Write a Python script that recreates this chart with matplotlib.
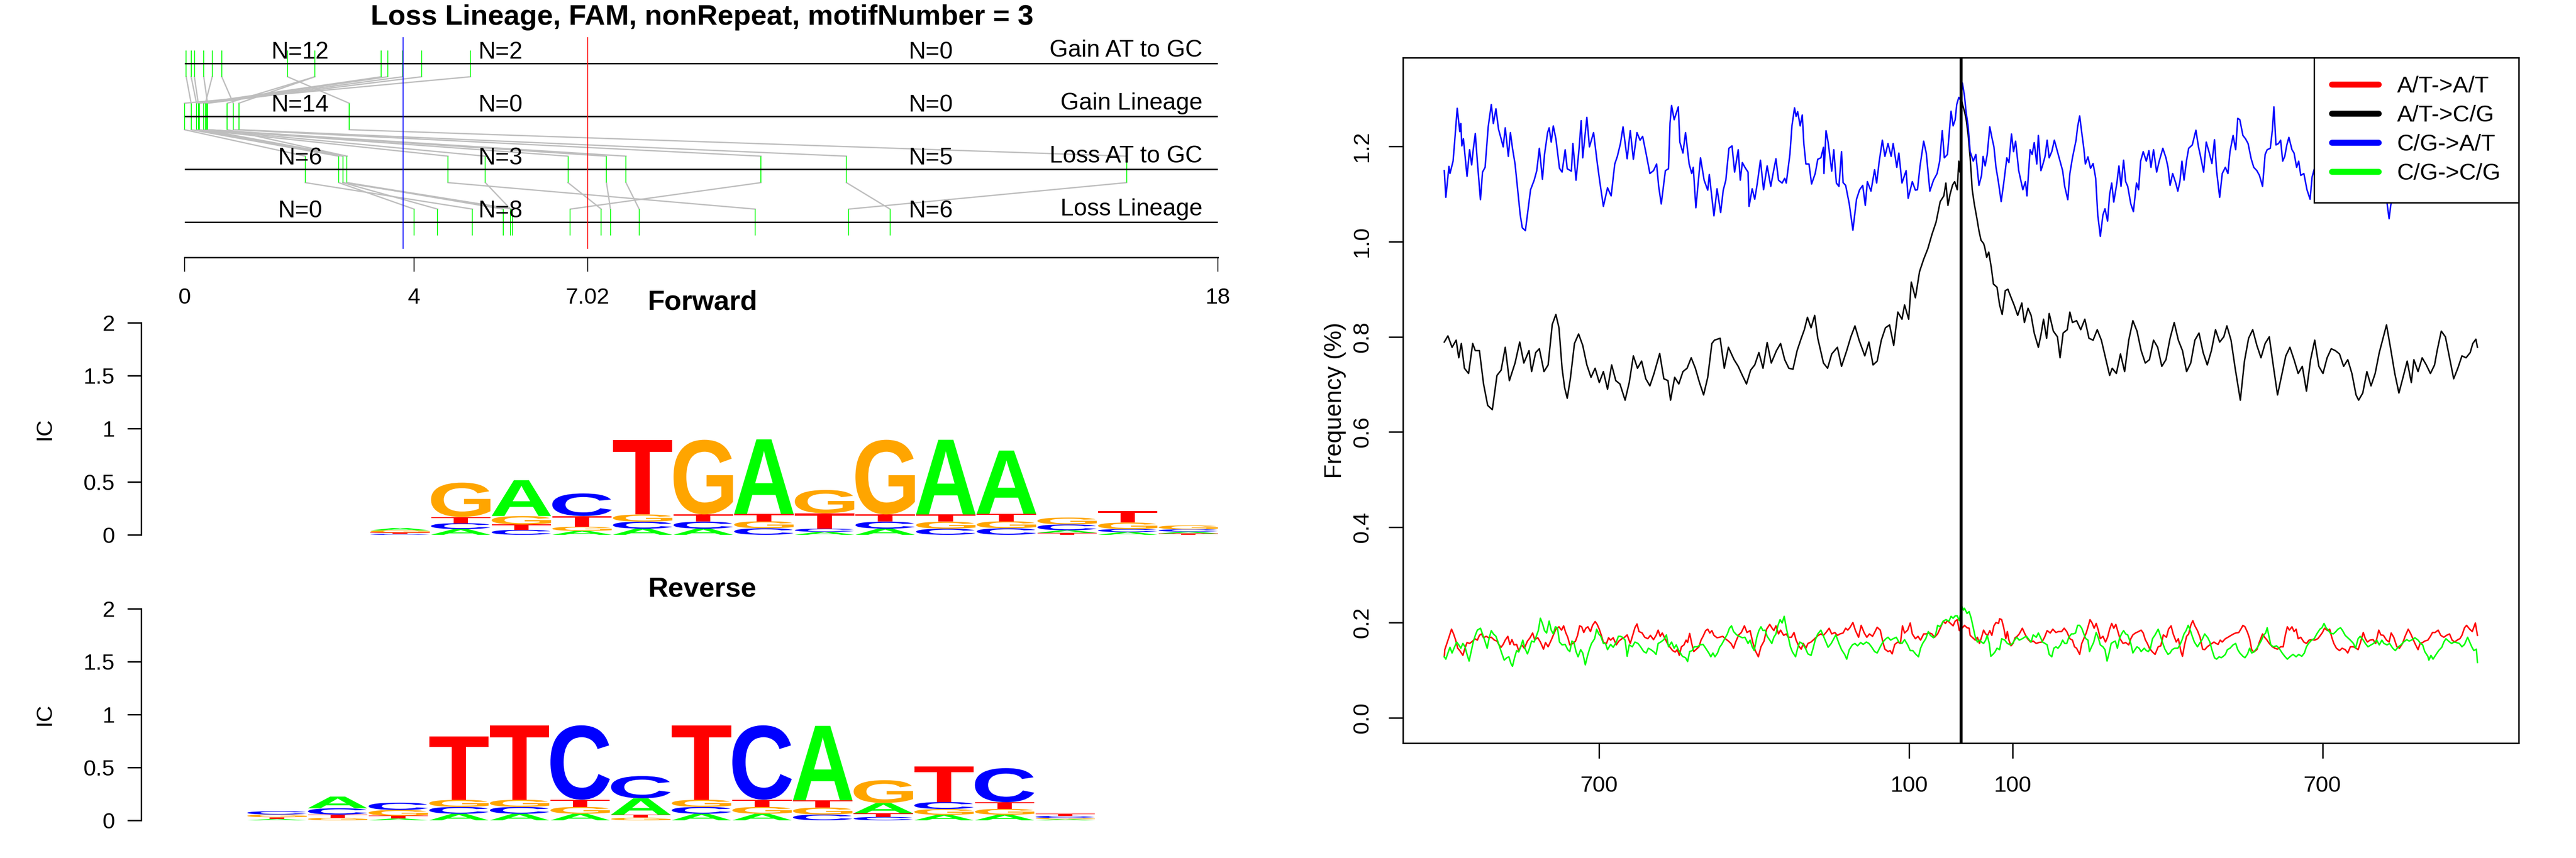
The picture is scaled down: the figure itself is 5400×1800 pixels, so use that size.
import numpy as np
import matplotlib
matplotlib.use('Agg')
import matplotlib.pyplot as plt
from matplotlib.textpath import TextPath
from matplotlib.patches import PathPatch
from matplotlib.font_manager import FontProperties
from matplotlib.transforms import Affine2D
from matplotlib.lines import Line2D

plt.rcParams['font.family'] = ['Liberation Sans', 'DejaVu Sans']

# ---------------- top left: motif positions, one entry per motif ----------------
TITLE = 'Loss Lineage, FAM, nonRepeat, motifNumber = 3'
LINEAGES = ['Gain AT to GC', 'Gain Lineage', 'Loss AT to GC', 'Loss Lineage']
GAIN_AT = [4.98, 0.03, 0.116, 0.173, 3.43, 3.54, 0.483, 3.80, 0.336, 4.13, 2.27, 0.65, 2.27, 1.795]
GAIN_LIN = [0.0, 0.116, 0.21, 0.24, 0.264, 0.336, 0.364, 0.383, 0.402, 0.402, 0.746, 0.85, 0.946, 2.87]
LOSS_AT = [2.105, 2.687, 2.76, 4.59, 2.76, 2.83, 5.24, 6.68, 7.35, 7.69, 2.83, 10.04, 11.53, 16.41]
LOSS_LIN = [5.015, 4.0, 4.41, 9.94, 5.715, 5.55, 5.68, 7.26, 7.42, 7.92, 5.715, 6.72, 12.29, 11.57]
POSITIONS = [GAIN_AT, GAIN_LIN, LOSS_AT, LOSS_LIN]
BLUE_CUT = 3.81
RED_CUT = 7.02
X_MAX = 18

# ---------------- sequence logos (information per base and column) ----------------
FWD_A = [.022, .054, .338, .037, .058, .058, .704, .028, .058, .704, .596, .025, .026, .018]
FWD_C = [.010, .056, .047, .213, .066, .066, .062, .030, .066, .058, .062, .055, .028, .022]
FWD_G = [.020, .324, .080, .040, .068, .704, .066, .220, .704, .066, .066, .065, .062, .037]
FWD_T = [.012, .058, .050, .100, .704, .068, .068, .145, .068, .068, .070, .018, .110, .012]

REV_A = [.012, .110, .017, .062, .062, .062, .155, .062, .062, .702, .098, .052, .053, .010]
REV_C = [.031, .059, .069, .065, .065, .702, .210, .065, .702, .055, .032, .066, .322, .020]
REV_G = [.026, .024, .055, .067, .068, .065, .025, .068, .065, .066, .215, .055, .056, .012]
REV_T = [.017, .031, .026, .597, .702, .068, .028, .702, .068, .069, .034, .336, .062, .022]

# ---------------- right: substitution frequency around the motif ----------------
BLUE_PTS = [(-1000, 1.149), (-997, 1.093), (-991, 1.158), (-989, 1.143), (-983, 1.169), (-980, 1.209), (-975, 1.280),
            (-970, 1.231), (-968, 1.248), (-966, 1.201), (-963, 1.216), (-956, 1.137), (-951, 1.193), (-947, 1.161),
            (-944, 1.193), (-940, 1.227), (-936, 1.168), (-930, 1.088), (-926, 1.146), (-921, 1.156), (-915, 1.241),
            (-909, 1.288), (-905, 1.248), (-900, 1.279), (-895, 1.236), (-890, 1.216), (-886, 1.199), (-882, 1.239),
            (-876, 1.179), (-872, 1.229), (-868, 1.196), (-863, 1.163), (-858, 1.109), (-853, 1.056), (-849, 1.029),
            (-843, 1.023), (-838, 1.066), (-833, 1.109), (-826, 1.129), (-821, 1.149), (-816, 1.196), (-810, 1.131),
            (-806, 1.183), (-800, 1.229), (-797, 1.239), (-793, 1.209), (-789, 1.243), (-784, 1.216), (-777, 1.154),
            (-772, 1.146), (-766, 1.193), (-762, 1.153), (-754, 1.148), (-751, 1.206), (-745, 1.129), (-739, 1.196),
            (-735, 1.254), (-732, 1.176), (-724, 1.261), (-719, 1.199), (-711, 1.229), (-704, 1.166), (-699, 1.126),
            (-692, 1.074), (-684, 1.113), (-677, 1.096), (-670, 1.163), (-665, 1.179), (-659, 1.206), (-654, 1.241),
            (-646, 1.174), (-640, 1.233), (-634, 1.173), (-627, 1.229), (-621, 1.213), (-616, 1.221), (-609, 1.183),
            (-602, 1.143), (-595, 1.149), (-589, 1.163), (-585, 1.116), (-580, 1.079), (-572, 1.149), (-566, 1.153),
            (-563, 1.249), (-560, 1.286), (-555, 1.256), (-547, 1.283), (-544, 1.209), (-538, 1.186), (-533, 1.229),
            (-526, 1.163), (-521, 1.143), (-518, 1.156), (-513, 1.071), (-504, 1.176), (-497, 1.129), (-490, 1.108),
            (-487, 1.141), (-482, 1.093), (-478, 1.054), (-472, 1.111), (-465, 1.061), (-460, 1.108), (-455, 1.129),
            (-449, 1.196), (-443, 1.201), (-438, 1.146), (-431, 1.193), (-427, 1.129), (-423, 1.166), (-418, 1.156),
            (-412, 1.146), (-410, 1.074), (-404, 1.111), (-399, 1.089), (-394, 1.123), (-388, 1.171), (-382, 1.109),
            (-375, 1.159), (-368, 1.116), (-363, 1.146), (-358, 1.174), (-353, 1.129), (-346, 1.123), (-341, 1.133),
            (-338, 1.123), (-331, 1.183), (-327, 1.243), (-322, 1.281), (-319, 1.263), (-316, 1.273), (-311, 1.243),
            (-307, 1.266), (-304, 1.206), (-300, 1.163), (-294, 1.163), (-289, 1.121), (-282, 1.143), (-277, 1.173),
            (-271, 1.176), (-266, 1.198), (-265, 1.143), (-261, 1.233), (-257, 1.209), (-250, 1.148), (-246, 1.193),
            (-241, 1.123), (-236, 1.116), (-231, 1.189), (-228, 1.124), (-223, 1.118), (-216, 1.079), (-209, 1.024),
            (-202, 1.089), (-196, 1.109), (-190, 1.118), (-185, 1.076), (-181, 1.126), (-174, 1.106), (-167, 1.151),
            (-163, 1.123), (-158, 1.169), (-152, 1.213), (-147, 1.179), (-141, 1.206), (-135, 1.179), (-131, 1.206),
            (-124, 1.156), (-120, 1.186), (-114, 1.123), (-106, 1.149), (-102, 1.091), (-94, 1.126), (-88, 1.108),
            (-84, 1.109), (-79, 1.159), (-72, 1.211), (-67, 1.186), (-60, 1.106), (-53, 1.129), (-46, 1.143),
            (-41, 1.169), (-36, 1.233), (-32, 1.176), (-26, 1.183), (-19, 1.274), (-15, 1.243), (-11, 1.256),
            (-8, 1.288), (-4, 1.303), (0, 1.296), (3, 1.333), (7, 1.306), (10, 1.273), (14, 1.243), (18, 1.189),
            (24, 1.169), (29, 1.183), (35, 1.118), (40, 1.139), (43, 1.179), (47, 1.159), (51, 1.183), (56, 1.241),
            (60, 1.219), (64, 1.199), (68, 1.156), (73, 1.123), (78, 1.084), (83, 1.123), (89, 1.176), (93, 1.166),
            (98, 1.226), (102, 1.189), (106, 1.211), (112, 1.149), (116, 1.129), (120, 1.109), (125, 1.126),
            (128, 1.096), (134, 1.193), (138, 1.183), (142, 1.208), (147, 1.163), (150, 1.223), (155, 1.149),
            (159, 1.163), (163, 1.179), (167, 1.213), (171, 1.176), (176, 1.189), (181, 1.213), (186, 1.193),
            (192, 1.169), (197, 1.149), (201, 1.116), (207, 1.088), (211, 1.143), (216, 1.176), (223, 1.213),
            (226, 1.241), (230, 1.264), (234, 1.229), (238, 1.196), (241, 1.163), (246, 1.178), (251, 1.154),
            (256, 1.164), (261, 1.133), (265, 1.056), (270, 1.011), (275, 1.056), (279, 1.069), (284, 1.043),
            (288, 1.099), (292, 1.123), (296, 1.083), (302, 1.123), (306, 1.159), (310, 1.116), (315, 1.171),
            (319, 1.126), (323, 1.116), (329, 1.079), (334, 1.063), (340, 1.123), (344, 1.109), (348, 1.169),
            (353, 1.189), (359, 1.169), (364, 1.191), (368, 1.156), (373, 1.193), (379, 1.146), (384, 1.169),
            (391, 1.196), (397, 1.176), (401, 1.156), (405, 1.118), (410, 1.143), (416, 1.123), (420, 1.106),
            (424, 1.126), (428, 1.169), (432, 1.129), (437, 1.171), (441, 1.196), (448, 1.203), (455, 1.234),
            (460, 1.199), (464, 1.179), (470, 1.146), (475, 1.209), (481, 1.186), (486, 1.164), (491, 1.214),
            (495, 1.149), (501, 1.093), (506, 1.143), (512, 1.156), (517, 1.143), (521, 1.189), (527, 1.223),
            (532, 1.193), (536, 1.259), (540, 1.256), (546, 1.223), (551, 1.216), (556, 1.206), (562, 1.174),
            (567, 1.156), (573, 1.149), (578, 1.139), (584, 1.116), (589, 1.183), (593, 1.193), (599, 1.196),
            (603, 1.234), (606, 1.283), (610, 1.203), (615, 1.206), (619, 1.213), (623, 1.169), (627, 1.179),
            (631, 1.203), (635, 1.219), (641, 1.193), (645, 1.186), (650, 1.156), (654, 1.169), (658, 1.139),
            (664, 1.143), (670, 1.109), (676, 1.089), (680, 1.136), (685, 1.156), (700, 1.18), (725, 1.21),
            (750, 1.16), (775, 1.19), (800, 1.14), (815, 1.11), (824, 1.089), (829, 1.048), (832, 1.075),
            (840, 1.12), (860, 1.19), (885, 1.23), (910, 1.17), (935, 1.21), (960, 1.18), (980, 1.16), (1000, 1.17)]

BLACK_PTS = [(-1000, 0.789), (-993, 0.802), (-985, 0.778), (-977, 0.793), (-972, 0.756), (-967, 0.786), (-961, 0.734),
             (-953, 0.723), (-945, 0.786), (-940, 0.771), (-932, 0.771), (-924, 0.701), (-916, 0.656), (-907, 0.647),
             (-898, 0.719), (-890, 0.730), (-882, 0.778), (-874, 0.708), (-863, 0.745), (-854, 0.789), (-846, 0.745),
             (-836, 0.771), (-831, 0.727), (-823, 0.767), (-816, 0.775), (-807, 0.727), (-799, 0.741), (-791, 0.826),
             (-784, 0.847), (-778, 0.819), (-772, 0.734), (-767, 0.693), (-762, 0.671), (-756, 0.712), (-748, 0.786),
             (-740, 0.806), (-732, 0.782), (-724, 0.741), (-716, 0.715), (-708, 0.734), (-700, 0.704), (-692, 0.727),
             (-684, 0.690), (-676, 0.741), (-668, 0.708), (-660, 0.701), (-650, 0.667), (-642, 0.704), (-634, 0.760),
             (-626, 0.734), (-618, 0.749), (-610, 0.712), (-602, 0.697), (-594, 0.723), (-583, 0.765), (-575, 0.712),
             (-567, 0.708), (-562, 0.667), (-554, 0.715), (-546, 0.701), (-538, 0.727), (-530, 0.734), (-522, 0.756),
             (-514, 0.734), (-506, 0.704), (-498, 0.678), (-490, 0.715), (-482, 0.786), (-477, 0.793), (-466, 0.797),
             (-458, 0.734), (-450, 0.778), (-439, 0.752), (-431, 0.738), (-423, 0.719), (-415, 0.701), (-407, 0.730),
             (-399, 0.741), (-391, 0.767), (-383, 0.734), (-375, 0.788), (-367, 0.745), (-357, 0.771), (-349, 0.786),
             (-341, 0.752), (-333, 0.734), (-325, 0.732), (-317, 0.771), (-309, 0.797), (-303, 0.815), (-297, 0.841),
             (-290, 0.819), (-283, 0.845), (-277, 0.797), (-266, 0.745), (-258, 0.734), (-250, 0.764), (-239, 0.778),
             (-231, 0.738), (-221, 0.771), (-213, 0.800), (-205, 0.823), (-197, 0.793), (-186, 0.760), (-178, 0.789),
             (-170, 0.741), (-162, 0.749), (-154, 0.793), (-146, 0.819), (-138, 0.825), (-130, 0.782), (-122, 0.852),
             (-114, 0.837), (-109, 0.867), (-101, 0.837), (-96, 0.915), (-88, 0.882), (-80, 0.937), (-72, 0.963),
             (-64, 0.985), (-56, 1.015), (-48, 1.041), (-40, 1.084), (-33, 1.096), (-29, 1.123), (-25, 1.076),
             (-21, 1.099), (-16, 1.119), (-12, 1.126), (-7, 1.109), (-4, 1.169), (-2, 1.146), (0, 1.17),
             (1, 1.30), (3, 1.289), (7, 1.273), (10, 1.259), (14, 1.226), (18, 1.176), (22, 1.109), (26, 1.079),
             (31, 1.049), (35, 1.023), (39, 1.003), (44, 0.996), (46, 0.989), (50, 0.967), (54, 0.978), (59, 0.945),
             (63, 0.911), (70, 0.904), (75, 0.867), (80, 0.847), (86, 0.897), (91, 0.900), (96, 0.886), (103, 0.867),
             (110, 0.845), (118, 0.871), (123, 0.830), (130, 0.860), (136, 0.845), (142, 0.808), (150, 0.778),
             (155, 0.804), (160, 0.837), (166, 0.797), (171, 0.849), (179, 0.812), (187, 0.800), (192, 0.756),
             (198, 0.808), (206, 0.815), (211, 0.852), (216, 0.830), (224, 0.834), (232, 0.815), (240, 0.837),
             (248, 0.797), (256, 0.793), (264, 0.815), (272, 0.793), (280, 0.756), (288, 0.719), (293, 0.734),
             (301, 0.723), (309, 0.764), (317, 0.727), (325, 0.793), (333, 0.834), (341, 0.812), (349, 0.771),
             (357, 0.745), (365, 0.752), (373, 0.793), (381, 0.778), (389, 0.738), (397, 0.752), (405, 0.797),
             (413, 0.830), (421, 0.793), (429, 0.771), (437, 0.727), (445, 0.745), (453, 0.793), (461, 0.808),
             (469, 0.767), (477, 0.741), (485, 0.771), (493, 0.815), (501, 0.789), (509, 0.800), (515, 0.823),
             (523, 0.793), (531, 0.734), (541, 0.667), (549, 0.749), (557, 0.797), (565, 0.815), (573, 0.782),
             (581, 0.756), (589, 0.786), (597, 0.800), (605, 0.738), (613, 0.678), (621, 0.719), (629, 0.760),
             (637, 0.778), (645, 0.752), (653, 0.723), (661, 0.738), (669, 0.686), (677, 0.752), (685, 0.793),
             (693, 0.738), (701, 0.723), (709, 0.756), (717, 0.775), (725, 0.771), (733, 0.764), (741, 0.738),
             (749, 0.752), (757, 0.723), (765, 0.678), (770, 0.667), (778, 0.682), (786, 0.727), (794, 0.697),
             (802, 0.723), (810, 0.767), (818, 0.800), (824, 0.825), (832, 0.775), (840, 0.723), (848, 0.682),
             (856, 0.715), (864, 0.749), (872, 0.704), (877, 0.752), (885, 0.727), (893, 0.756), (901, 0.741),
             (909, 0.723), (917, 0.741), (922, 0.771), (930, 0.812), (938, 0.800), (946, 0.756), (954, 0.712),
             (962, 0.734), (970, 0.760), (978, 0.756), (986, 0.767), (991, 0.786), (997, 0.795), (1000, 0.778)]

RED_PTS = [(-1000, 0.128), (-999, 0.143), (-995, 0.156), (-991, 0.169), (-986, 0.186), (-982, 0.176), (-978, 0.163),
           (-974, 0.146), (-970, 0.141), (-964, 0.131), (-960, 0.146), (-956, 0.158), (-951, 0.156), (-945, 0.161),
           (-941, 0.166), (-936, 0.163), (-932, 0.173), (-928, 0.176), (-924, 0.168), (-919, 0.171), (-914, 0.168),
           (-909, 0.169), (-903, 0.163), (-898, 0.161), (-894, 0.153), (-890, 0.148), (-886, 0.154), (-882, 0.163),
           (-877, 0.171), (-873, 0.154), (-869, 0.164), (-865, 0.153), (-860, 0.154), (-856, 0.141), (-850, 0.153),
           (-845, 0.146), (-839, 0.161), (-834, 0.168), (-829, 0.178), (-825, 0.164), (-819, 0.168), (-814, 0.159),
           (-808, 0.144), (-804, 0.158), (-799, 0.149), (-793, 0.163), (-788, 0.176), (-784, 0.186), (-778, 0.191),
           (-773, 0.184), (-769, 0.193), (-765, 0.179), (-761, 0.169), (-757, 0.153), (-751, 0.156), (-746, 0.161),
           (-742, 0.173), (-738, 0.193), (-734, 0.191), (-730, 0.179), (-726, 0.188), (-722, 0.191), (-717, 0.181),
           (-713, 0.194), (-708, 0.202), (-704, 0.196), (-700, 0.186), (-696, 0.173), (-692, 0.158), (-686, 0.156),
           (-682, 0.168), (-678, 0.163), (-673, 0.168), (-667, 0.153), (-662, 0.161), (-656, 0.166), (-651, 0.169),
           (-646, 0.174), (-640, 0.156), (-635, 0.174), (-631, 0.189), (-627, 0.197), (-623, 0.181), (-617, 0.178),
           (-612, 0.169), (-606, 0.166), (-601, 0.173), (-595, 0.164), (-590, 0.173), (-586, 0.184), (-582, 0.171),
           (-578, 0.178), (-574, 0.169), (-568, 0.156), (-563, 0.148), (-558, 0.141), (-553, 0.138), (-549, 0.143),
           (-545, 0.131), (-541, 0.149), (-536, 0.153), (-532, 0.163), (-529, 0.158), (-525, 0.177), (-521, 0.156),
           (-517, 0.139), (-513, 0.143), (-507, 0.149), (-503, 0.163), (-499, 0.171), (-494, 0.183), (-490, 0.186),
           (-486, 0.178), (-482, 0.183), (-478, 0.173), (-472, 0.168), (-467, 0.169), (-461, 0.171), (-456, 0.166),
           (-450, 0.161), (-445, 0.156), (-440, 0.146), (-436, 0.159), (-430, 0.174), (-425, 0.179), (-419, 0.193),
           (-414, 0.179), (-408, 0.183), (-403, 0.159), (-398, 0.141), (-392, 0.128), (-387, 0.149), (-381, 0.161),
           (-376, 0.186), (-370, 0.196), (-366, 0.189), (-362, 0.183), (-358, 0.193), (-353, 0.176), (-349, 0.184),
           (-343, 0.173), (-338, 0.176), (-334, 0.169), (-328, 0.169), (-323, 0.179), (-319, 0.163), (-314, 0.151),
           (-309, 0.144), (-305, 0.156), (-300, 0.146), (-296, 0.156), (-290, 0.159), (-285, 0.164), (-280, 0.169),
           (-276, 0.173), (-271, 0.176), (-266, 0.173), (-261, 0.179), (-255, 0.188), (-250, 0.176), (-244, 0.179),
           (-239, 0.173), (-234, 0.176), (-228, 0.178), (-223, 0.188), (-219, 0.184), (-215, 0.189), (-209, 0.200),
           (-204, 0.183), (-198, 0.169), (-193, 0.194), (-187, 0.178), (-182, 0.169), (-177, 0.176), (-171, 0.171),
           (-167, 0.179), (-162, 0.190), (-156, 0.184), (-151, 0.159), (-147, 0.144), (-141, 0.139), (-137, 0.141),
           (-133, 0.134), (-128, 0.154), (-122, 0.159), (-117, 0.156), (-113, 0.193), (-109, 0.178), (-103, 0.184),
           (-98, 0.199), (-94, 0.176), (-88, 0.166), (-83, 0.171), (-78, 0.163), (-72, 0.176), (-67, 0.176),
           (-61, 0.178), (-56, 0.176), (-51, 0.169), (-45, 0.176), (-40, 0.188), (-34, 0.203), (-30, 0.198),
           (-26, 0.204), (-21, 0.199), (-15, 0.193), (-11, 0.203), (-7, 0.206), (-3, 0.183), (3, 0.189), (7, 0.194),
           (12, 0.189), (16, 0.188), (18, 0.173), (22, 0.169), (28, 0.163), (32, 0.169), (36, 0.156), (40, 0.169),
           (44, 0.184), (48, 0.176), (52, 0.173), (56, 0.183), (60, 0.173), (64, 0.193), (68, 0.200), (73, 0.198),
           (75, 0.208), (79, 0.206), (83, 0.189), (87, 0.166), (90, 0.181), (93, 0.163), (97, 0.151), (101, 0.156),
           (105, 0.168), (109, 0.171), (113, 0.176), (119, 0.188), (124, 0.176), (129, 0.166), (135, 0.159),
           (140, 0.161), (146, 0.156), (151, 0.158), (157, 0.159), (162, 0.169), (167, 0.183), (173, 0.178),
           (178, 0.186), (184, 0.179), (189, 0.181), (195, 0.181), (200, 0.188), (205, 0.181), (211, 0.166),
           (216, 0.163), (220, 0.149), (224, 0.146), (230, 0.133), (234, 0.156), (238, 0.166), (243, 0.179),
           (247, 0.194), (250, 0.206), (254, 0.199), (258, 0.188), (262, 0.198), (266, 0.184), (270, 0.166),
           (275, 0.171), (280, 0.159), (284, 0.169), (288, 0.186), (292, 0.198), (296, 0.188), (300, 0.196),
           (304, 0.181), (308, 0.166), (314, 0.156), (319, 0.158), (325, 0.153), (329, 0.166), (333, 0.174),
           (338, 0.178), (344, 0.181), (349, 0.184), (353, 0.178), (357, 0.164), (361, 0.156), (365, 0.146),
           (371, 0.138), (376, 0.133), (382, 0.149), (387, 0.151), (392, 0.174), (398, 0.169), (402, 0.186),
           (407, 0.193), (411, 0.176), (417, 0.159), (421, 0.166), (426, 0.139), (429, 0.129), (433, 0.153),
           (437, 0.171), (441, 0.176), (445, 0.194), (449, 0.204), (453, 0.193), (458, 0.183), (463, 0.169),
           (468, 0.144), (472, 0.143), (477, 0.149), (482, 0.153), (486, 0.156), (490, 0.159), (494, 0.156),
           (498, 0.154), (502, 0.163), (506, 0.159), (512, 0.166), (517, 0.169), (523, 0.173), (528, 0.176),
           (532, 0.178), (538, 0.179), (542, 0.186), (546, 0.194), (550, 0.191), (555, 0.179), (559, 0.166),
           (563, 0.143), (567, 0.138), (573, 0.143), (578, 0.159), (584, 0.176), (588, 0.169), (592, 0.164),
           (597, 0.156), (603, 0.149), (608, 0.146), (613, 0.144), (619, 0.149), (624, 0.149), (628, 0.173),
           (632, 0.191), (636, 0.184), (641, 0.191), (645, 0.181), (649, 0.186), (653, 0.166), (658, 0.169),
           (664, 0.159), (669, 0.156), (674, 0.163), (680, 0.164), (685, 0.163), (691, 0.166), (696, 0.173),
           (700, 0.179), (704, 0.188), (710, 0.183), (714, 0.186), (718, 0.169), (722, 0.156), (727, 0.146),
           (733, 0.141), (738, 0.146), (744, 0.143), (749, 0.136), (754, 0.149), (760, 0.149), (765, 0.146),
           (769, 0.143), (773, 0.156), (779, 0.179), (783, 0.166), (787, 0.159), (792, 0.163), (798, 0.164),
           (803, 0.156), (809, 0.184), (813, 0.174), (818, 0.173), (824, 0.163), (829, 0.159), (833, 0.178),
           (838, 0.169), (844, 0.149), (849, 0.146), (855, 0.156), (860, 0.171), (866, 0.186), (871, 0.176),
           (875, 0.166), (879, 0.156), (885, 0.143), (889, 0.156), (894, 0.158), (898, 0.161), (904, 0.163),
           (909, 0.171), (913, 0.179), (918, 0.179), (924, 0.184), (929, 0.173), (935, 0.169), (940, 0.173),
           (946, 0.176), (951, 0.163), (956, 0.159), (962, 0.164), (966, 0.166), (970, 0.173), (975, 0.189),
           (979, 0.194), (985, 0.186), (990, 0.181), (996, 0.199), (1000, 0.173)]

GREEN_PTS = [(-1000, 0.128), (-997, 0.123), (-993, 0.136), (-989, 0.148), (-985, 0.136), (-980, 0.149), (-976, 0.159),
             (-972, 0.153), (-968, 0.146), (-964, 0.156), (-960, 0.149), (-956, 0.133), (-952, 0.119), (-948, 0.139),
             (-944, 0.159), (-940, 0.173), (-936, 0.184), (-930, 0.188), (-926, 0.176), (-922, 0.163), (-917, 0.146),
             (-913, 0.168), (-909, 0.183), (-905, 0.176), (-900, 0.171), (-896, 0.159), (-892, 0.146), (-888, 0.133),
             (-884, 0.121), (-879, 0.126), (-875, 0.128), (-871, 0.114), (-868, 0.108), (-864, 0.126), (-860, 0.141),
             (-856, 0.138), (-852, 0.149), (-848, 0.163), (-844, 0.146), (-839, 0.134), (-835, 0.146), (-831, 0.161),
             (-826, 0.159), (-822, 0.171), (-818, 0.183), (-814, 0.209), (-810, 0.198), (-806, 0.183), (-802, 0.178),
             (-797, 0.203), (-793, 0.184), (-789, 0.176), (-785, 0.191), (-781, 0.189), (-777, 0.159), (-772, 0.153),
             (-766, 0.154), (-761, 0.143), (-757, 0.139), (-753, 0.161), (-749, 0.158), (-745, 0.139), (-741, 0.128),
             (-736, 0.143), (-732, 0.136), (-730, 0.126), (-727, 0.111), (-723, 0.129), (-719, 0.144), (-715, 0.156),
             (-709, 0.166), (-705, 0.186), (-701, 0.176), (-697, 0.171), (-692, 0.156), (-688, 0.156), (-684, 0.143),
             (-678, 0.154), (-673, 0.148), (-667, 0.159), (-663, 0.171), (-659, 0.171), (-655, 0.169), (-650, 0.163),
             (-646, 0.129), (-642, 0.153), (-636, 0.149), (-631, 0.159), (-625, 0.156), (-620, 0.149), (-614, 0.139),
             (-609, 0.136), (-605, 0.146), (-600, 0.143), (-594, 0.138), (-590, 0.133), (-586, 0.156), (-581, 0.159),
             (-575, 0.164), (-570, 0.174), (-566, 0.149), (-560, 0.159), (-555, 0.146), (-551, 0.153), (-547, 0.143),
             (-543, 0.136), (-539, 0.129), (-533, 0.126), (-529, 0.118), (-525, 0.139), (-520, 0.141), (-516, 0.149),
             (-510, 0.149), (-505, 0.153), (-499, 0.154), (-494, 0.146), (-488, 0.136), (-484, 0.128), (-480, 0.136),
             (-476, 0.128), (-471, 0.136), (-467, 0.148), (-463, 0.154), (-457, 0.166), (-452, 0.176), (-448, 0.188),
             (-444, 0.193), (-440, 0.181), (-434, 0.174), (-429, 0.171), (-423, 0.168), (-418, 0.169), (-412, 0.156),
             (-408, 0.163), (-404, 0.149), (-400, 0.141), (-395, 0.169), (-391, 0.183), (-387, 0.191), (-383, 0.183),
             (-379, 0.184), (-375, 0.171), (-370, 0.163), (-366, 0.156), (-362, 0.169), (-358, 0.176), (-354, 0.194),
             (-350, 0.206), (-346, 0.199), (-342, 0.213), (-338, 0.189), (-334, 0.169), (-330, 0.149), (-326, 0.138),
             (-320, 0.128), (-316, 0.146), (-312, 0.159), (-307, 0.156), (-301, 0.146), (-296, 0.134), (-290, 0.131),
             (-286, 0.146), (-282, 0.163), (-277, 0.176), (-271, 0.184), (-267, 0.174), (-262, 0.161), (-257, 0.148),
             (-251, 0.156), (-246, 0.166), (-242, 0.174), (-236, 0.156), (-231, 0.143), (-225, 0.133), (-221, 0.123),
             (-216, 0.143), (-210, 0.153), (-205, 0.156), (-200, 0.151), (-194, 0.158), (-189, 0.154), (-183, 0.159),
             (-178, 0.156), (-173, 0.149), (-167, 0.139), (-162, 0.136), (-156, 0.149), (-151, 0.159), (-145, 0.166),
             (-141, 0.169), (-136, 0.163), (-131, 0.166), (-125, 0.169), (-120, 0.159), (-114, 0.156), (-109, 0.164),
             (-103, 0.153), (-98, 0.141), (-93, 0.141), (-87, 0.133), (-82, 0.128), (-78, 0.146), (-74, 0.156),
             (-68, 0.166), (-63, 0.181), (-59, 0.173), (-53, 0.168), (-49, 0.174), (-45, 0.194), (-40, 0.191),
             (-34, 0.203), (-29, 0.206), (-23, 0.203), (-19, 0.213), (-15, 0.209), (-11, 0.214), (-7, 0.214),
             (-3, 0.204), (2, 0.234), (5, 0.226), (7, 0.230), (12, 0.219), (16, 0.223), (20, 0.209), (24, 0.189),
             (28, 0.169), (32, 0.159), (36, 0.163), (40, 0.159), (44, 0.156), (48, 0.163), (51, 0.173), (55, 0.156),
             (58, 0.129), (62, 0.133), (66, 0.138), (70, 0.146), (75, 0.143), (79, 0.166), (85, 0.163), (90, 0.156),
             (96, 0.153), (100, 0.156), (104, 0.163), (108, 0.169), (113, 0.163), (119, 0.166), (123, 0.169),
             (127, 0.171), (132, 0.164), (136, 0.159), (140, 0.174), (146, 0.169), (150, 0.178), (154, 0.169),
             (158, 0.159), (163, 0.156), (167, 0.153), (171, 0.133), (176, 0.128), (180, 0.146), (184, 0.149),
             (188, 0.146), (193, 0.153), (197, 0.163), (201, 0.156), (205, 0.156), (209, 0.169), (214, 0.176),
             (218, 0.176), (222, 0.178), (226, 0.194), (230, 0.194), (234, 0.188), (238, 0.176), (242, 0.166),
             (246, 0.163), (249, 0.139), (253, 0.149), (257, 0.158), (262, 0.179), (266, 0.168), (270, 0.153),
             (275, 0.149), (279, 0.143), (283, 0.119), (287, 0.136), (291, 0.156), (295, 0.159), (299, 0.161),
             (303, 0.146), (307, 0.166), (311, 0.176), (315, 0.183), (319, 0.176), (323, 0.174), (329, 0.156),
             (333, 0.136), (337, 0.143), (341, 0.149), (345, 0.146), (349, 0.139), (355, 0.146), (359, 0.141),
             (363, 0.139), (367, 0.146), (371, 0.166), (376, 0.174), (382, 0.186), (386, 0.173), (391, 0.156),
             (395, 0.144), (401, 0.133), (405, 0.136), (409, 0.143), (414, 0.146), (420, 0.146), (424, 0.153),
             (428, 0.163), (432, 0.176), (436, 0.183), (440, 0.194), (444, 0.184), (448, 0.171), (452, 0.159),
             (458, 0.149), (462, 0.156), (467, 0.164), (472, 0.176), (478, 0.168), (482, 0.159), (486, 0.143),
             (491, 0.126), (495, 0.123), (500, 0.128), (504, 0.126), (508, 0.129), (512, 0.133), (516, 0.143),
             (521, 0.146), (527, 0.153), (532, 0.156), (536, 0.143), (540, 0.136), (546, 0.129), (550, 0.126),
             (555, 0.134), (559, 0.146), (563, 0.136), (567, 0.138), (573, 0.146), (577, 0.153), (582, 0.163),
             (586, 0.173), (590, 0.178), (593, 0.189), (596, 0.173), (600, 0.153), (605, 0.149), (611, 0.151),
             (616, 0.146), (622, 0.136), (627, 0.129), (632, 0.123), (638, 0.129), (643, 0.133), (649, 0.128),
             (654, 0.133), (660, 0.129), (665, 0.136), (669, 0.149), (673, 0.156), (679, 0.163), (684, 0.166),
             (689, 0.176), (695, 0.186), (699, 0.189), (703, 0.198), (707, 0.189), (711, 0.184), (715, 0.178),
             (721, 0.176), (726, 0.181), (730, 0.186), (735, 0.189), (739, 0.183), (744, 0.173), (749, 0.168),
             (754, 0.163), (760, 0.156), (764, 0.146), (769, 0.166), (773, 0.171), (779, 0.163), (783, 0.156),
             (788, 0.149), (794, 0.153), (799, 0.156), (805, 0.163), (810, 0.153), (815, 0.163), (819, 0.156),
             (825, 0.153), (830, 0.156), (836, 0.146), (841, 0.141), (847, 0.149), (852, 0.153), (857, 0.159),
             (863, 0.164), (868, 0.161), (874, 0.164), (879, 0.168), (885, 0.163), (890, 0.156), (894, 0.153),
             (898, 0.139), (904, 0.129), (906, 0.121), (910, 0.131), (914, 0.123), (920, 0.133), (925, 0.141),
             (931, 0.148), (935, 0.159), (939, 0.166), (944, 0.161), (950, 0.156), (955, 0.159), (959, 0.158),
             (965, 0.156), (970, 0.149), (975, 0.154), (981, 0.169), (985, 0.159), (989, 0.149), (993, 0.141),
             (998, 0.144), (1000, 0.116)]

SERIES = [('A/T->A/T', 'red', RED_PTS), ('A/T->C/G', 'black', BLACK_PTS),
          ('C/G->A/T', 'blue', BLUE_PTS), ('C/G->C/G', '#00FF00', GREEN_PTS)]
XTICKS = [-700, -100, 100, 700]
YTICKS = [0.0, 0.2, 0.4, 0.6, 0.8, 1.0, 1.2]

BASE_COLORS = {'A': '#00FF00', 'C': '#0000FF', 'G': '#FFA500', 'T': '#FF0000'}
LOGO_FONT = FontProperties(family='Liberation Sans', weight='bold')
GLYPHS = {b: TextPath((0, 0), b, size=1, prop=LOGO_FONT) for b in 'ACGT'}


def draw_letter(ax, base, x0, y0, w, h):
    path = GLYPHS[base]
    bb = path.get_extents()
    tr = Affine2D().translate(-bb.x0, -bb.y0).scale(w / bb.width, h / bb.height).translate(x0, y0)
    ax.add_patch(PathPatch(tr.transform_path(path), facecolor=BASE_COLORS[base], edgecolor='none', lw=0))


def draw_logo(ax, heights, offset, title, title_y):
    ax.set_xlim(0, 17.757)
    ax.set_ylim(0, 2)
    for s in ['right', 'top', 'bottom']:
        ax.spines[s].set_visible(False)
    ax.spines['left'].set_linewidth(2.25)
    ax.set_xticks([])
    ax.set_yticks([0, 0.5, 1, 1.5, 2])
    ax.set_yticklabels(['0', '0.5', '1', '1.5', '2'])
    ax.tick_params(axis='y', length=21, width=2.25, pad=19, labelsize=34)
    ax.set_ylabel('IC', fontsize=34)
    ax.yaxis.set_label_coords(-0.08, 0.5)
    ncol = len(heights['A'])
    for i in range(ncol):
        col = sorted(((heights[b][i], b) for b in 'ACGT'))
        y = 0.0
        for h, b in col:
            draw_letter(ax, b, offset + i + 0.01, y, 0.98, h)
            y += h
    fig.text(0.2726, title_y, title, ha='center', va='baseline', fontsize=42, fontweight='bold')


fig = plt.figure(figsize=(54, 18), dpi=100)

# ---- top-left lineage map ----
ax = fig.add_axes([0.07161, 0.67917, 0.40117, 0.32083])
ax.set_xlim(0, X_MAX)
ax.set_ylim(0, 5.2)
rows = [4, 3, 2, 1]
label_x = [2.02, 5.51, 13.0]
for k in range(3):
    for xa, xb in zip(POSITIONS[k], POSITIONS[k + 1]):
        ax.plot([xa, xb], [rows[k] - 0.25, rows[k + 1] + 0.25], color='#BEBEBE', lw=2.0, zorder=1, clip_on=False)
for k, (name, pos) in enumerate(zip(LINEAGES, POSITIONS)):
    yr = rows[k]
    pos = np.array(pos)
    ax.vlines(pos, yr - 0.25, yr + 0.25, color='#00FF00', lw=1.3, zorder=2, clip_on=False)
    ax.plot([0, X_MAX], [yr, yr], color='black', lw=2.25, zorder=3, solid_capstyle='butt')
    counts = [(pos < BLUE_CUT).sum(), ((pos >= BLUE_CUT) & (pos < RED_CUT)).sum(), (pos >= RED_CUT).sum()]
    for lx, c in zip(label_x, counts):
        ax.text(lx, yr + 0.09, f'N={c}', ha='center', va='baseline', fontsize=36, zorder=5)
    ax.text(17.73, yr + 0.13, name, ha='right', va='baseline', fontsize=36, zorder=5)
ax.vlines([BLUE_CUT], 0.5, 4.5, color='blue', lw=1.3, zorder=4)
ax.vlines([RED_CUT], 0.5, 4.5, color='red', lw=1.3, zorder=4)
for s in ['left', 'right', 'top']:
    ax.spines[s].set_visible(False)
ax.spines['bottom'].set_position(('data', 0.34))
ax.spines['bottom'].set_linewidth(2.25)
ax.set_yticks([])
ax.set_xticks([0, 4, RED_CUT, X_MAX])
ax.set_xticklabels(['0', '4', f'{RED_CUT:g}', str(X_MAX)])
ax.tick_params(axis='x', length=21.6, width=1.5, pad=24, labelsize=34)
ax.patch.set_visible(False)
fig.text(0.2726, 0.9711, TITLE, ha='center', va='baseline', fontsize=43, fontweight='bold')

# ---- logos ----
ax_f = fig.add_axes([0.05481, 0.37667, 0.41796, 0.24722])
draw_logo(ax_f, {'A': FWD_A, 'C': FWD_C, 'G': FWD_G, 'T': FWD_T}, 3.77, 'Forward', 0.6389)
ax_r = fig.add_axes([0.05481, 0.04389, 0.41796, 0.24694])
draw_logo(ax_r, {'A': REV_A, 'C': REV_C, 'G': REV_G, 'T': REV_T}, 1.74, 'Reverse', 0.3046)

# ---- right: frequency profiles ----
axr = fig.add_axes([0.54463, 0.13389, 0.43315, 0.79889])
ymax = max(v for _, v in BLUE_PTS)
for label, color, pts in SERIES:
    arr = np.array(pts)
    axr.plot(arr[:, 0], arr[:, 1], color=color, lw=2.2)
axr.axvline(0, color='black', lw=4.5)
axr.set_xlim(-1080, 1080)
axr.set_ylim(-0.04 * ymax, 1.04 * ymax)
axr.set_xticks(XTICKS)
axr.set_xticklabels([str(abs(t)) for t in XTICKS])
axr.set_yticks(YTICKS)
axr.set_yticklabels([f'{t:.1f}' for t in YTICKS], rotation=90, va='center')
axr.tick_params(axis='x', length=23, width=2.25, pad=26, labelsize=34)
axr.tick_params(axis='y', length=21.6, width=2.25, pad=24, labelsize=34)
for s in axr.spines.values():
    s.set_linewidth(2.25)
axr.set_ylabel('Frequency (%)', fontsize=36)
axr.yaxis.set_label_coords(-0.051, 0.5)
handles = [Line2D([], [], color=c, lw=9, solid_capstyle='round') for _, c, _ in SERIES]
leg = axr.legend(handles, [l for l, _, _ in SERIES], loc='upper right', bbox_to_anchor=(1, 1),
                 borderaxespad=0, fontsize=35, frameon=True, fancybox=False, framealpha=1,
                 edgecolor='black', borderpad=0.78, handlelength=2.0,
                 handletextpad=0.8, labelspacing=0.33)
leg.get_frame().set_linewidth(2.25)

fig.savefig('out.png', dpi=100)
